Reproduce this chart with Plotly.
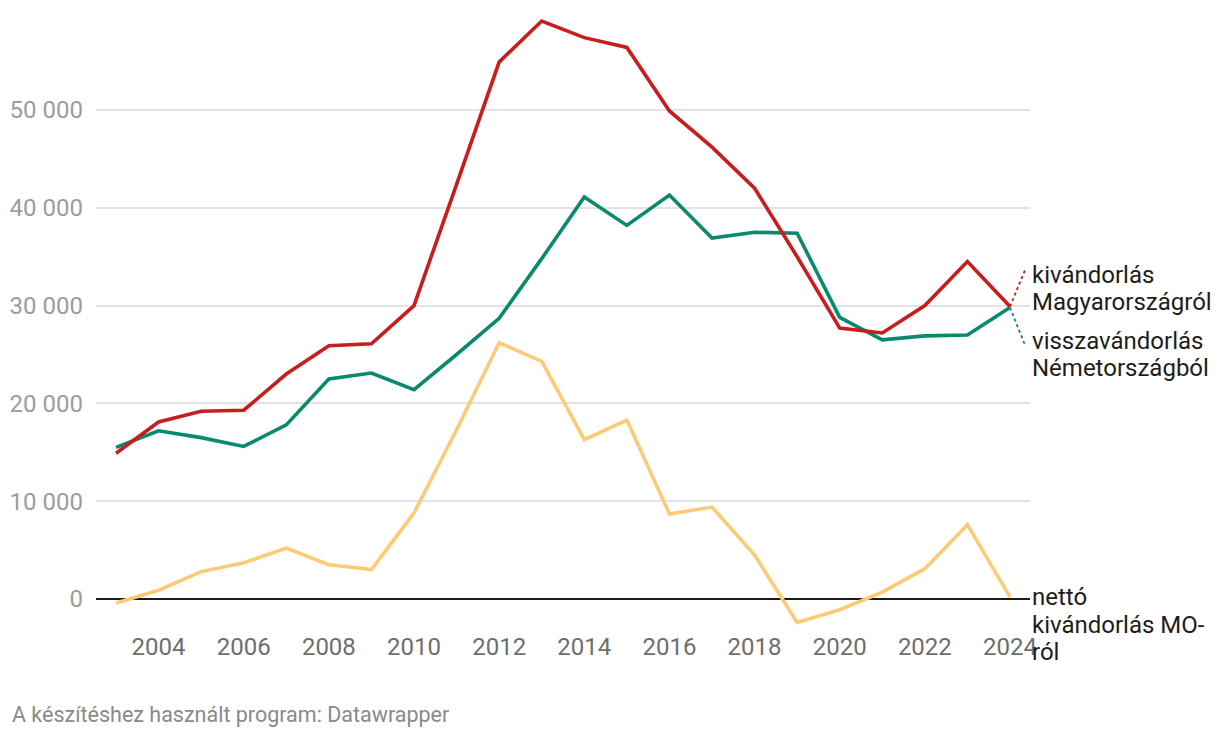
import plotly.graph_objects as go

years = list(range(2003, 2025))
kivandorlas = [14900, 18100, 19200, 19300, 23000, 25900, 26100, 30000, 42400, 54900,
               59100, 57400, 56400, 49900, 46200, 42000, 35000, 27700, 27200, 30000,
               34500, 29900]
visszavandorlas = [15500, 17200, 16500, 15600, 17800, 22500, 23100, 21400, 25000, 28700,
                   34800, 41100, 38200, 41300, 36900, 37500, 37400, 28800, 26500, 26900,
                   27000, 29800]
netto = [-400, 900, 2800, 3700, 5200, 3500, 3000, 8800, 17300, 26200,
         24300, 16300, 18300, 8700, 9400, 4500, -2400, -1100, 700, 3100,
         7600, 200]

y_ticks = [0, 10000, 20000, 30000, 40000, 50000]
y_tick_text = ["0", "10 000", "20 000", "30 000", "40 000", "50 000"]
x_ticks = list(range(2004, 2025, 2))

# end labels: (lines, pixel offsets above the zero line)
label_red = ["kivándorlás", "Magyarországról"]
label_green = ["visszavándorlás", "Németországból"]
label_yellow = ["nettó", "kivándorlás MO-", "ról"]
offs_red = [324, 297]
offs_green = [258, 231]
offs_yellow = [2, -26, -53]

RED = "#c71e1d"
GREEN = "#0a8a6d"
YELLOW = "#ffca76"
FONT = "Roboto"

fig = go.Figure()
fig.add_trace(go.Scatter(x=years, y=netto, mode="lines",
                         line=dict(color=YELLOW, width=3.6), name="nettó kivándorlás MO-ról"))
fig.add_trace(go.Scatter(x=years, y=visszavandorlas, mode="lines",
                         line=dict(color=GREEN, width=3.6), name="visszavándorlás Németországból"))
fig.add_trace(go.Scatter(x=years, y=kivandorlas, mode="lines",
                         line=dict(color=RED, width=3.6), name="kivándorlás Magyarországról"))

# dotted connectors from line ends to labels
red_label_y = 33600
green_label_y = 26000
fig.add_trace(go.Scatter(x=[years[-1], years[-1] + 0.35], y=[kivandorlas[-1], red_label_y],
                         mode="lines", line=dict(color=RED, width=1.8, dash="dot"),
                         cliponaxis=False, showlegend=False, hoverinfo="skip"))
fig.add_trace(go.Scatter(x=[years[-1], years[-1] + 0.35], y=[visszavandorlas[-1], green_label_y],
                         mode="lines", line=dict(color=GREEN, width=1.8, dash="dot"),
                         cliponaxis=False, showlegend=False, hoverinfo="skip"))

annotations = []
for lines, offs in ((label_red, offs_red), (label_green, offs_green), (label_yellow, offs_yellow)):
    for txt, off in zip(lines, offs):
        annotations.append(dict(x=years[-1], y=0, xref="x", yref="y", text=txt,
                                xanchor="left", yanchor="middle", xshift=20, yshift=off,
                                showarrow=False, align="left",
                                font=dict(family=FONT, size=24, color="#1d1d1d")))
annotations.append(dict(x=0, y=0, xref="paper", yref="paper",
                        text="A készítéshez használt program: Datawrapper",
                        xanchor="left", yanchor="middle", xshift=-86, yshift=-84, showarrow=False,
                        font=dict(family=FONT, size=21.5, color="#8a8a8a")))

fig.update_layout(
    width=1220, height=738,
    margin=dict(l=88, r=198, t=2, b=116),
    paper_bgcolor="white", plot_bgcolor="white",
    showlegend=False,
    font=dict(family=FONT),
    annotations=annotations,
    xaxis=dict(range=[2002.53, 2024.47], tickvals=x_ticks, showgrid=False,
               zeroline=False, showline=False, ticks="",
               tickfont=dict(family=FONT, size=24, color="#6e6e6e")),
    yaxis=dict(range=[-3170, 60225], tickvals=y_ticks, ticktext=y_tick_text,
               showgrid=True, gridcolor="#e3e3e3", gridwidth=1.5,
               zeroline=True, zerolinecolor="#1a1a1a", zerolinewidth=2,
               showline=False, ticks="", ticklabelstandoff=12,
               tickfont=dict(family=FONT, size=24, color="#9c9c9c")),
)

fig.write_html("out.html")
